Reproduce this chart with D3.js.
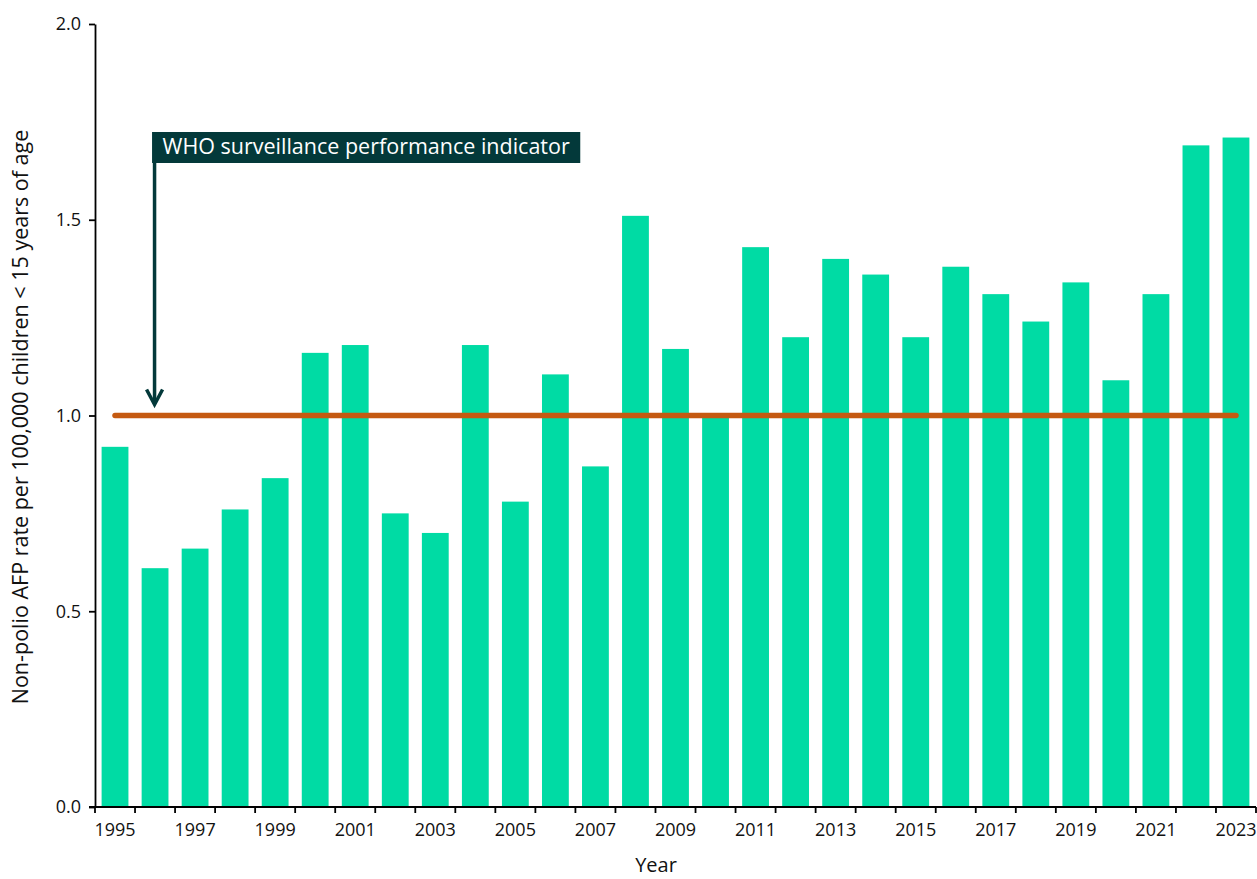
<!DOCTYPE html>
<html>
<head>
<meta charset="utf-8">
<script src="https://cdn.jsdelivr.net/npm/d3@7"></script>
<style>
  html, body { margin: 0; padding: 0; background: #fff; }
  svg { display: block; font-family: "Open Sans", "Noto Sans", sans-serif; }
</style>
</head>
<body>
<svg id="chart" width="1257" height="879"></svg>
<script>
// ---- Data ----
const years = [1995,1996,1997,1998,1999,2000,2001,2002,2003,2004,2005,2006,2007,2008,2009,
               2010,2011,2012,2013,2014,2015,2016,2017,2018,2019,2020,2021,2022,2023];
const afpRates = [0.92,0.61,0.66,0.76,0.84,1.16,1.18,0.75,0.70,1.18,0.78,1.105,0.87,1.51,1.17,
                  1.00,1.43,1.20,1.40,1.36,1.20,1.38,1.31,1.24,1.34,1.09,1.31,1.69,1.71];
const yTickValues = [0, 0.5, 1.0, 1.5, 2.0];
const xLabelYears = years.filter(y => (y - 1995) % 2 === 0);
const indicatorValue = 1.0;
const indicatorLabel = "WHO surveillance performance indicator";
const annotationYear = 1996;
const yAxisTitle = "Non-polio AFP rate per 100,000 children < 15 years of age";
const xAxisTitle = "Year";

// ---- Layout ----
const svg = d3.select("#chart");
const plot = { left: 95, right: 1256, top: 24, bottom: 807 };
const barColor = "#00DBA4";
const lineColor = "#C55A11";
const darkTeal = "#03393A";

const x = d3.scaleBand()
  .domain(years)
  .range([plot.left, plot.right])
  .paddingInner(0.33)
  .paddingOuter(0.165);

const y = d3.scaleLinear()
  .domain([0, 2])
  .range([plot.bottom, plot.top]);

// Bars
svg.append("g")
  .selectAll("rect")
  .data(years.map((yr, i) => ({ yr, v: afpRates[i] })))
  .join("rect")
  .attr("x", d => x(d.yr))
  .attr("width", x.bandwidth())
  .attr("y", d => y(d.v))
  .attr("height", d => y(0) - y(d.v))
  .attr("fill", barColor);

// Y axis
const yAxis = svg.append("g")
  .attr("transform", `translate(${plot.left},0)`)
  .call(d3.axisLeft(y)
    .tickValues(yTickValues)
    .tickFormat(d3.format(".1f"))
    .tickSize(6)
    .tickSizeOuter(0)
    .tickPadding(8));
yAxis.select(".domain").attr("stroke", "#000").attr("stroke-width", 1.8);
yAxis.selectAll(".tick line").attr("stroke", "#000").attr("stroke-width", 1.8);
yAxis.selectAll(".tick text")
  .attr("font-size", "18px")
  .attr("fill", "#111")
  .attr("font-family", "Open Sans, sans-serif");

// X axis (labels centred on bands, ticks at band boundaries)
const xAxis = svg.append("g")
  .attr("transform", `translate(0,${plot.bottom})`)
  .call(d3.axisBottom(x)
    .tickValues(xLabelYears)
    .tickSize(0)
    .tickPadding(16));
xAxis.select(".domain").remove();
xAxis.selectAll(".tick text")
  .attr("font-size", "18px")
  .attr("fill", "#111")
  .attr("font-family", "Open Sans, sans-serif");

const gap = (x.step() - x.bandwidth()) / 2;
const boundaries = years.map(yr => x(yr) - gap).concat([x(years[years.length - 1]) + x.bandwidth() + gap]);
xAxis.append("line")
  .attr("x1", plot.left - 6).attr("x2", plot.right)
  .attr("y1", 0).attr("y2", 0)
  .attr("stroke", "#000").attr("stroke-width", 1.8);
xAxis.selectAll("line.btick")
  .data(boundaries)
  .join("line")
  .attr("class", "btick")
  .attr("x1", d => d).attr("x2", d => d)
  .attr("y1", 0).attr("y2", 6)
  .attr("stroke", "#000").attr("stroke-width", 1.8);

// Indicator line
const firstC = x(years[0]) + x.bandwidth() / 2;
const lastC = x(years[years.length - 1]) + x.bandwidth() / 2;
svg.append("line")
  .attr("x1", firstC).attr("x2", lastC)
  .attr("y1", y(indicatorValue)).attr("y2", y(indicatorValue))
  .attr("stroke", lineColor)
  .attr("stroke-width", 5.5)
  .attr("stroke-linecap", "round");

// Annotation
const ax = x(annotationYear) + x.bandwidth() / 2 - 0.5;
const boxTop = 132, boxH = 31;
const ann = svg.append("g");
const annText = ann.append("text")
  .attr("x", ax + 8)
  .attr("y", boxTop + 21.5)
  .attr("fill", "#fff")
  .attr("font-size", "21.5px")
  .attr("font-family", "Open Sans, sans-serif")
  .text(indicatorLabel);
const tw = annText.node().getComputedTextLength();
ann.insert("rect", "text")
  .attr("x", ax - 2.5)
  .attr("y", boxTop)
  .attr("width", tw + 21)
  .attr("height", boxH)
  .attr("fill", darkTeal);
const tipY = y(indicatorValue) - 11;
ann.append("line")
  .attr("x1", ax).attr("x2", ax)
  .attr("y1", boxTop + boxH).attr("y2", tipY - 1)
  .attr("stroke", darkTeal).attr("stroke-width", 3.5);
ann.append("path")
  .attr("d", `M${ax - 8},${tipY - 15} L${ax},${tipY} L${ax + 8},${tipY - 15}`)
  .attr("fill", "none")
  .attr("stroke", darkTeal)
  .attr("stroke-width", 3.5)
  .attr("stroke-linejoin", "miter");

// Axis titles
svg.append("text")
  .attr("transform", `translate(28,417) rotate(-90)`)
  .attr("text-anchor", "middle")
  .attr("font-size", "21.5px")
  .attr("fill", "#111")
  .text(yAxisTitle);

svg.append("text")
  .attr("x", 656)
  .attr("y", 872)
  .attr("text-anchor", "middle")
  .attr("font-size", "20px")
  .attr("fill", "#111")
  .text(xAxisTitle);
</script>
</body>
</html>
